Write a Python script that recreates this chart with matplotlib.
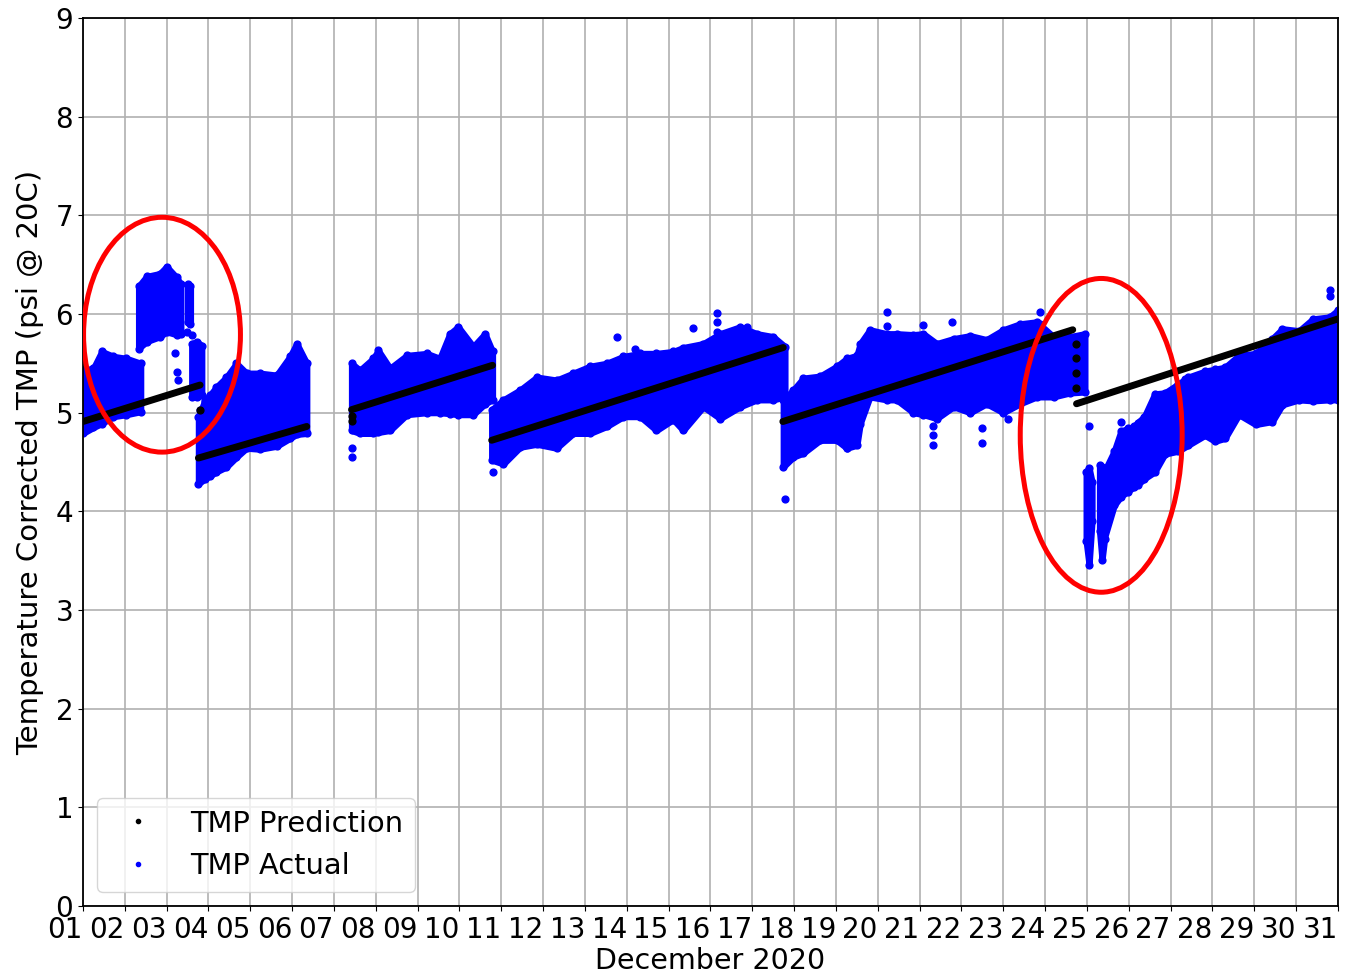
import datetime

import matplotlib
matplotlib.use("Agg")
import matplotlib.dates as mdates
import matplotlib.pyplot as plt
from matplotlib.lines import Line2D
from matplotlib.patches import Ellipse

START = datetime.datetime(2020, 12, 1)

# TMP Actual: clouds as (day of month, lower edge, upper edge)
a_days = [1.00, 1.25, 1.45, 1.73, 2.04, 2.38]
a_hi = [5.43, 5.45, 5.62, 5.57, 5.55, 5.50]
a_lo = [4.79, 4.85, 4.89, 4.96, 4.98, 5.01]

b_days = [2.33, 2.52, 2.84, 3.00, 3.24, 3.34]
b_hi = [6.28, 6.38, 6.41, 6.48, 6.37, 6.30]
b_lo = [5.65, 5.72, 5.77, 5.82, 5.79, 5.80]

b2_days = [3.50, 3.57]
b2_hi = [6.30, 6.28]
b2_lo = [5.92, 5.90]

b3_days = [3.60, 3.72, 3.84]
b3_hi = [5.70, 5.72, 5.68]
b3_lo = [5.16, 5.16, 5.18]

c_days = [3.76, 3.92, 4.04, 4.19, 4.43, 4.67, 4.91, 5.23, 5.63, 5.95, 6.11, 6.35]
c_hi = [4.96, 5.13, 5.18, 5.26, 5.36, 5.50, 5.40, 5.40, 5.38, 5.57, 5.70, 5.50]
c_lo = [4.28, 4.33, 4.36, 4.40, 4.45, 4.55, 4.64, 4.63, 4.66, 4.74, 4.78, 4.79]

d_days = [7.42, 7.62, 7.94, 8.06, 8.34, 8.74, 9.22, 9.53, 9.77, 9.97, 10.33, 10.61, 10.79]
d_hi = [5.50, 5.43, 5.55, 5.63, 5.45, 5.58, 5.60, 5.55, 5.80, 5.87, 5.67, 5.80, 5.62]
d_lo = [4.82, 4.79, 4.79, 4.80, 4.82, 4.98, 5.00, 5.00, 4.99, 4.98, 4.98, 5.09, 5.13]

e_days = [10.77, 11.05, 11.45, 11.85, 12.32, 12.72, 13.12, 13.52, 13.92, 14.32,
          14.71, 15.11, 15.35, 15.83, 16.23, 16.71, 17.11, 17.50, 17.78]
e_hi = [5.03, 5.13, 5.23, 5.36, 5.33, 5.40, 5.47, 5.50, 5.57, 5.60,
        5.60, 5.62, 5.66, 5.70, 5.80, 5.87, 5.80, 5.77, 5.67]
e_lo = [4.52, 4.48, 4.65, 4.68, 4.64, 4.79, 4.79, 4.86, 4.96, 4.96,
        4.82, 4.93, 4.82, 5.06, 4.94, 5.06, 5.13, 5.13, 5.16]

f_days = [17.74, 17.98, 18.22, 18.62, 19.02, 19.26, 19.50, 19.58, 19.81, 20.21, 20.45, 20.85,
          21.09, 21.41, 21.81, 22.21, 22.60, 23.00, 23.40, 23.80, 24.20, 24.59, 24.95]
f_hi = [5.13, 5.23, 5.35, 5.37, 5.47, 5.55, 5.58, 5.70, 5.84, 5.80, 5.80, 5.79,
        5.80, 5.70, 5.75, 5.78, 5.74, 5.84, 5.90, 5.92, 5.77, 5.77, 5.80]
f_lo = [4.45, 4.55, 4.59, 4.72, 4.72, 4.64, 4.67, 4.89, 5.16, 5.13, 5.13, 5.00,
        4.98, 4.94, 5.06, 5.00, 5.09, 5.00, 5.09, 5.16, 5.16, 5.20, 5.21]

g1_days = [24.98, 25.05, 25.12]
g1_hi = [4.40, 4.44, 4.30]
g1_lo = [3.70, 3.46, 3.90]

g2_days = [25.30, 25.36, 25.42]
g2_hi = [4.47, 4.45, 4.40]
g2_lo = [3.80, 3.51, 3.72]

g_days = [25.41, 25.65, 25.81, 25.97, 26.13, 26.21, 26.37, 26.62, 26.86, 27.18, 27.42,
          27.82, 28.06, 28.30, 28.63, 29.03, 29.43, 29.67, 30.07, 30.40, 30.80, 31.00]
g_hi = [4.40, 4.61, 4.81, 4.84, 4.86, 4.90, 4.96, 5.19, 5.20, 5.29, 5.36,
        5.42, 5.44, 5.46, 5.58, 5.60, 5.75, 5.85, 5.83, 5.95, 5.97, 6.04]
g_lo = [3.72, 4.06, 4.15, 4.20, 4.25, 4.27, 4.33, 4.40, 4.58, 4.61, 4.67,
        4.77, 4.71, 4.74, 4.98, 4.88, 4.91, 5.08, 5.13, 5.12, 5.13, 5.13]

# loose TMP Actual points outside the clouds
out_days = [3.20, 3.24, 3.28, 3.48, 3.60, 3.92, 3.80, 7.42, 7.42, 10.79, 13.76, 14.20,
            15.59, 16.15, 16.15, 16.15, 16.87, 17.78, 19.27, 20.21, 20.21, 21.09, 21.33,
            21.33, 21.33, 21.77, 22.48, 22.48, 23.12, 23.88, 23.88, 25.05, 25.81, 27.34,
            30.80, 30.80]
out_vals = [5.60, 5.41, 5.33, 5.82, 5.79, 5.11, 5.03, 4.64, 4.55, 4.40, 5.77, 5.65,
            5.86, 6.01, 5.92, 5.82, 5.87, 4.12, 4.64, 6.02, 5.88, 5.89, 4.86,
            4.77, 4.67, 5.92, 4.84, 4.69, 4.94, 6.02, 5.90, 4.86, 4.91, 5.34,
            6.24, 6.18]

# TMP Prediction: straight runs between restarts (start day, start value, end day, end value)
pred_start_days = [1.00, 3.76, 7.42, 10.77, 17.73, 24.75]
pred_start_vals = [4.91, 4.54, 5.03, 4.72, 4.91, 5.09]
pred_end_days = [3.80, 6.35, 10.79, 17.74, 24.66, 31.00]
pred_end_vals = [5.28, 4.86, 5.48, 5.66, 5.84, 5.95]

pred_extra_days = [3.80, 7.42, 7.42, 24.73, 24.73, 24.73, 24.73]
pred_extra_vals = [5.03, 4.97, 4.92, 5.70, 5.55, 5.40, 5.25]


def to_num(days):
    return [mdates.date2num(START + datetime.timedelta(days=d - 1)) for d in days]


plt.rcParams["font.size"] = 20

fig = plt.figure(figsize=(13.53, 9.76), dpi=100)
ax = fig.add_axes([0.0613, 0.0717, 0.9276, 0.9099])

clouds = [
    (a_days, a_lo, a_hi), (b_days, b_lo, b_hi), (b2_days, b2_lo, b2_hi),
    (b3_days, b3_lo, b3_hi), (c_days, c_lo, c_hi), (d_days, d_lo, d_hi),
    (e_days, e_lo, e_hi), (f_days, f_lo, f_hi), (g1_days, g1_lo, g1_hi),
    (g2_days, g2_lo, g2_hi), (g_days, g_lo, g_hi),
]
for days, lo, hi in clouds:
    x = to_num(days)
    ax.fill_between(x, lo, hi, facecolor="b", edgecolor="b", linewidth=4.5,
                    joinstyle="round", zorder=2)
    ax.scatter(x, hi, s=24, color="b", zorder=2)
    ax.scatter(x, lo, s=24, color="b", zorder=2)

ax.scatter(to_num(out_days), out_vals, s=24, color="b", zorder=2)

for d0, v0, d1, v1 in zip(pred_start_days, pred_start_vals, pred_end_days, pred_end_vals):
    ax.plot(to_num([d0, d1]), [v0, v1], color="k", linewidth=5,
            solid_capstyle="round", zorder=3)
ax.scatter(to_num(pred_extra_days), pred_extra_vals, s=24, color="k", zorder=3)

# highlighted anomalies
ax.add_patch(Ellipse((to_num([2.89])[0], 5.79), width=3.75, height=2.38,
                     fill=False, edgecolor="r", linewidth=3.6, zorder=4))
ax.add_patch(Ellipse((to_num([25.34])[0], 4.77), width=3.87, height=3.18,
                     fill=False, edgecolor="r", linewidth=3.6, zorder=4))

ax.set_xlim(to_num([1])[0], to_num([31])[0])
ax.set_ylim(0, 9)
ax.xaxis.set_major_locator(mdates.DayLocator())
ax.xaxis.set_major_formatter(mdates.DateFormatter("%d"))
plt.setp(ax.get_xticklabels(), ha="right")
ax.set_yticks(range(0, 10))
ax.grid(True, color="#b0b0b0", linewidth=1.2)
ax.set_axisbelow(True)
for s in ax.spines.values():
    s.set_linewidth(1.3)

ax.set_xlabel("December 2020", fontsize=20.5, labelpad=2)
ax.set_ylabel("Temperature Corrected TMP (psi @ 20C)", fontsize=21, labelpad=8)

handles = [
    Line2D([], [], marker=".", linestyle="", color="k", markersize=6),
    Line2D([], [], marker=".", linestyle="", color="b", markersize=6),
]
ax.legend(handles, ["TMP Prediction", "TMP Actual"], loc="lower left", fontsize=20.8)

fig.savefig("out.png", dpi=100)
